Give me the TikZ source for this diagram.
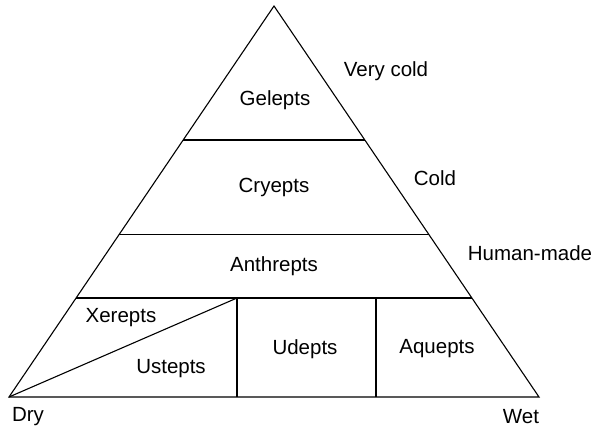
\documentclass[tikz,border=0pt]{standalone}
\usepackage{fontspec}
\setmainfont{Liberation Sans}
\usetikzlibrary{calc}
\begin{document}
\begin{tikzpicture}[x=1pt,y=-1pt,
  edge/.style={line width=1.1pt,line join=miter},
  lbl/.style={inner sep=0pt,font=\fontsize{20.5}{24}\selectfont}]
\useasboundingbox (0,0) rectangle (596,431);
% outer triangle
\coordinate (A) at (274,6);
\coordinate (L) at (9,397);
\coordinate (R) at (539,397);
% points where the horizontal bands meet the sides
\coordinate (l1) at ($(A)!0.3427!(L)$);
\coordinate (r1) at ($(A)!0.3427!(R)$);
\coordinate (l2) at ($(A)!0.5844!(L)$);
\coordinate (r2) at ($(A)!0.5844!(R)$);
\coordinate (l3) at ($(A)!0.7468!(L)$);
\coordinate (r3) at ($(A)!0.7468!(R)$);
% lower band dividers
\coordinate (t1) at (237,298);
\coordinate (b1) at (237,397);
\coordinate (t2) at (376,298);
\coordinate (b2) at (376,397);
\draw[edge] (A) -- (L) -- (R) -- cycle;
\draw[edge] (l1) -- (r1);
\draw[edge] (l2) -- (r2);
\draw[edge] (l3) -- (r3);
\draw[edge] (t1) -- (b1);
\draw[edge] (t2) -- (b2);
\draw[edge] (L) -- (t1);
% region names
\node[lbl] (gel) at (275,100) {Gelepts};
\node[lbl] (cry) at (274,187) {Cryepts};
\node[lbl] (ant) at (274,266) {Anthrepts};
\node[lbl] (xer) at (121,318) {Xerepts};
\node[lbl] (ust) at (171,369) {Ustepts};
\node[lbl] (ude) at (305,349) {Udepts};
\node[lbl] (aqu) at (437,349) {Aquepts};
% side labels
\node[lbl] (vc) at (386,71) {Very cold};
\node[lbl] (cold) at (435,178) {Cold};
\node[lbl] (hm) at (530,253) {Human-made};
\node[lbl] (dry) at (28,417) {Dry};
\node[lbl] (wet) at (521,417) {Wet};
\end{tikzpicture}
\end{document}
